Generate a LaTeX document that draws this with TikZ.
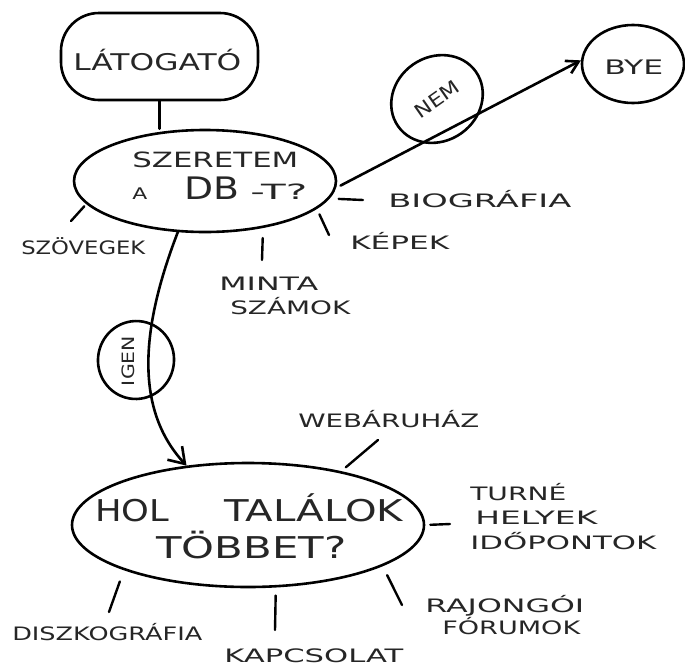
\documentclass[tikz,border=0pt]{standalone}
\usepackage{fontspec}
\usepackage{graphicx}
\usetikzlibrary{arrows.meta,shapes.geometric}
\newfontfamily\hand{DejaVu Sans}
\newcommand\lab[2]{\resizebox{#1}{\height}{#2}}
\definecolor{ink}{gray}{0.15}
\begin{document}
\begin{tikzpicture}[x=1pt,y=-1pt,line cap=round,line join=round,line width=2.6pt,
  blob/.style={draw, ellipse, inner sep=0pt},
  lbl/.style={inner sep=0pt, anchor=base west, text=ink, font=\hand\fontsize{18.5}{20}\selectfont},
  midlbl/.style={lbl, font=\hand\fontsize{21}{23}\selectfont},
  biglbl/.style={lbl, font=\hand\fontsize{30}{32}\selectfont},
  tick/.style={line width=2.4pt},
  barb/.style={-{Straight Barb[length=12pt,width=14pt]}},
  bigbarb/.style={-{Straight Barb[length=15pt,width=20pt]}}
]
\fill[white] (0,0) rectangle (685,667);
\useasboundingbox (0,0) rectangle (685,667);

% --- blobs ---
\node[draw, rounded corners=38pt, minimum width=197pt, minimum height=87pt, inner sep=0pt] (lat) at (159.5,56.5) {};
\node[blob, minimum width=262pt, minimum height=102pt] (szer) at (205,181) {};
\node[blob, minimum width=102pt, minimum height=78pt] (bye) at (633,64) {};
\node[blob, rotate=35, minimum width=95pt, minimum height=84pt, text=ink, font=\hand\fontsize{19}{21}\selectfont] (nem) at (437,99) {\lab{50pt}{NEM}};
\node[blob, rotate=80, minimum width=78pt, minimum height=76pt] (igen) at (136,360) {};
\node[blob, minimum width=352pt, minimum height=124pt] (hol) at (248,525) {};

% --- texts in blobs ---
\node[midlbl, font=\hand\fontsize{23}{25}\selectfont] (latT) at (72,70.4) {\lab{168pt}{LÁTOGATÓ}};
\node[midlbl] (szerT1) at (131,167.5) {\lab{166pt}{SZERETEM}};
\node[midlbl] (szerT2) at (131,199) {\lab{15pt}{\fontsize{16}{16}\selectfont A}\hspace{37pt}\lab{55pt}{\fontsize{31}{31}\selectfont DB}\hspace{11pt}\lab{57pt}{-T?}};
\node[midlbl, font=\hand\fontsize{20}{22}\selectfont] (byeT) at (603,74.5) {\lab{59pt}{BYE}};
\node[inner sep=0pt, text=ink, font=\hand\fontsize{17}{19}\selectfont, rotate=90] (igenT) at (128,361) {\lab{50pt}{IGEN}};
\node[biglbl] (holT1) at (94,521) {\lab{74pt}{HOL}\hspace{55pt}\lab{179pt}{TALÁLOK}};
\node[biglbl] (holT2) at (155,558) {\lab{190pt}{TÖBBET?}};

% --- labels ---
\node[lbl] (bio) at (387,207) {\lab{183pt}{BIOGRÁFIA}};
\node[lbl] (szov) at (20,254.5) {\lab{124pt}{SZÖVEGEK}};
\node[lbl] (kep) at (349,249) {\lab{99pt}{KÉPEK}};
\node[lbl] (minta) at (218,290) {\lab{99pt}{MINTA}};
\node[lbl] (szam) at (229,314) {\lab{120pt}{SZÁMOK}};
\node[lbl] (web) at (297,427) {\lab{181pt}{WEBÁRUHÁZ}};
\node[lbl] (turne) at (469,500) {\lab{96pt}{TURNÉ}};
\node[lbl] (helyek) at (474,524) {\lab{122pt}{HELYEK}};
\node[lbl] (idop) at (469,549) {\lab{186pt}{IDŐPONTOK}};
\node[lbl] (raj) at (424,612) {\lab{159pt}{RAJONGÓI}};
\node[lbl] (forum) at (441,634) {\lab{138pt}{FÓRUMOK}};
\node[lbl] (disz) at (11,640) {\lab{190pt}{DISZKOGRÁFIA}};
\node[lbl] (kapcs) at (223,662) {\lab{179pt}{KAPCSOLAT}};

% --- tick ends ---
\coordinate (tSzov) at (71,221);
\coordinate (tKep) at (329,235);
\coordinate (tMinta) at (262,260);
\coordinate (tBio) at (363,200);
\coordinate (tWeb) at (378,440);
\coordinate (tTurne) at (450,524);
\coordinate (tRaj) at (402,605);
\coordinate (tKap) at (275,630);
\coordinate (tDisz) at (109,612);

% --- connectors ---
\draw (lat.south) -- (lat.south |- szer.north);
\draw[barb, shorten <=5pt] (szer.-3) -- (bye.176);
\draw[bigbarb] (szer.-118) .. controls (140,330) and (135,410) .. (hol.136);

\draw[tick, shorten <=3pt] (szer.-169) -- (tSzov);
\draw[tick, shorten <=6pt] (szer.-14) -- (tKep);
\draw[tick, shorten <=10pt] (szer.-39) -- (tMinta);
\draw[tick, shorten <=9pt] (szer.-8) -- (tBio);
\draw[tick, shorten <=6pt] (hol.30) -- (tWeb);
\draw[tick, shorten <=5pt] (hol.0) -- (tTurne);
\draw[tick, shorten <=10pt] (hol.-17) -- (tRaj);
\draw[tick, shorten <=8pt] (hol.-66) -- (tKap);
\draw[tick, shorten <=12pt] (hol.-160) -- (tDisz);
\end{tikzpicture}
\end{document}
